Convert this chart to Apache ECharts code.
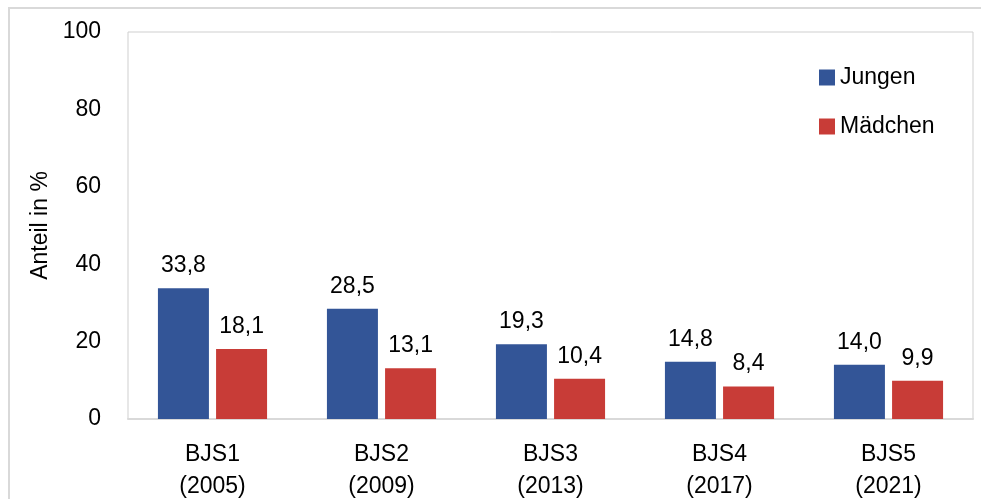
<!DOCTYPE html>
<html>
<head>
<meta charset="utf-8">
<script src="https://cdn.jsdelivr.net/npm/echarts@6/dist/echarts.min.js"></script>
<style>
html,body{margin:0;padding:0;background:#fff;}
#main{width:981px;height:499px;}
</style>
</head>
<body>
<div id="main"></div>
<script>
const categories = ['BJS1\n(2005)', 'BJS2\n(2009)', 'BJS3\n(2013)', 'BJS4\n(2017)', 'BJS5\n(2021)'];
const jungen = [33.8, 28.5, 19.3, 14.8, 14.0];
const maedchen = [18.1, 13.1, 10.4, 8.4, 9.9];
const seriesNames = ['Jungen', 'Mädchen'];
const yTicks = [0, 20, 40, 60, 80, 100];

const FONT = "'Liberation Sans Narrow', 'Arial Narrow', 'Liberation Sans', Arial, sans-serif";
const FS = 23;
const fmt = v => v.toFixed(1).replace('.', ',');

const chart = echarts.init(document.getElementById('main'), null, {renderer: 'canvas'});
chart.setOption({
  animation: false,
  backgroundColor: '#fff',
  textStyle: {fontFamily: FONT},
  graphic: [{
    type: 'rect',
    shape: {x: 9, y: 8, width: 990, height: 520},
    style: {fill: 'none', stroke: '#d9d9d9', lineWidth: 2},
    silent: true
  }],
  grid: {
    left: 128, top: 32, right: 8, bottom: 80,
    show: true, borderColor: '#cfcfcf', borderWidth: 1,
    containLabel: false,
    outerBoundsMode: 'none'
  },
  legend: {
    orient: 'vertical',
    left: 819, top: 66, padding: 0,
    itemWidth: 16, itemHeight: 16, itemGap: 26,
    icon: 'rect',
    textStyle: {fontFamily: FONT, fontSize: FS, color: '#000'},
    data: seriesNames
  },
  xAxis: {
    type: 'category',
    data: categories,
    axisLine: {show: true, lineStyle: {color: '#d9d9d9', width: 2}},
    axisTick: {show: false},
    axisLabel: {fontFamily: FONT, fontSize: FS, color: '#000', lineHeight: 32, margin: 20, interval: 0}
  },
  yAxis: {
    type: 'value',
    min: 0, max: 100, interval: 20,
    name: 'Anteil in %',
    nameLocation: 'middle',
    nameGap: 67,
    nameTextStyle: {fontFamily: FONT, fontSize: FS, color: '#000'},
    axisLine: {show: false},
    axisTick: {show: false},
    splitLine: {show: false},
    axisLabel: {fontFamily: FONT, fontSize: FS, color: '#000', margin: 27,
      formatter: v => yTicks.includes(v) ? String(v) : ''}
  },
  series: [
    {
      name: seriesNames[0], type: 'bar', data: jungen,
      barWidth: 51, barGap: '14%',
      itemStyle: {color: '#335597'},
      label: {show: true, position: 'top', distance: 11, fontFamily: FONT, fontSize: FS, color: '#000',
        formatter: p => fmt(p.value)}
    },
    {
      name: seriesNames[1], type: 'bar', data: maedchen,
      barWidth: 51, barGap: '14%',
      itemStyle: {color: '#C83C37'},
      label: {show: true, position: 'top', distance: 11, fontFamily: FONT, fontSize: FS, color: '#000',
        formatter: p => fmt(p.value)}
    }
  ]
});
</script>
</body>
</html>
